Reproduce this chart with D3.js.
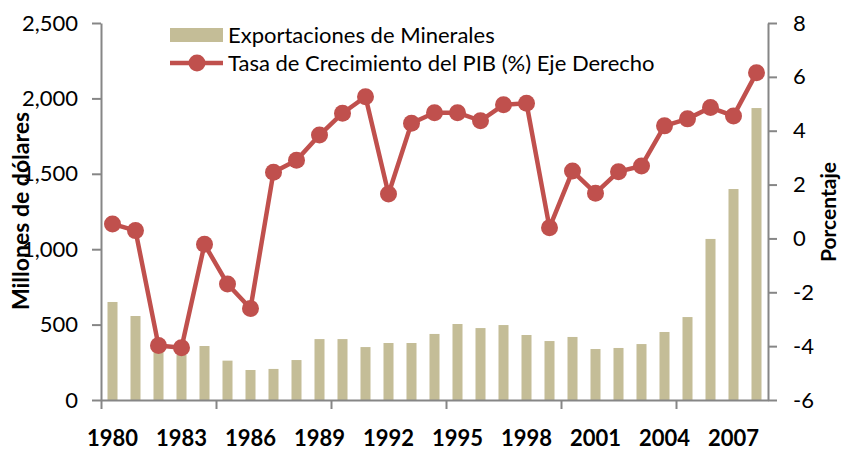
<!DOCTYPE html>
<html>
<head>
<meta charset="utf-8">
<script src="https://cdn.jsdelivr.net/npm/d3@7"></script>
<style>
  body { margin: 0; background: #fff; }
  svg { display: block; font-family: Lato, "Open Sans", sans-serif; }
  .axis path, .axis line { stroke: #868686; stroke-width: 2; }
</style>
</head>
<body>
<div id="chart"></div>
<script>
// data
var years = d3.range(1980, 2009);
var exports = [650, 557, 320, 300, 358, 261, 199, 206, 265, 404, 404, 351, 378, 378, 438,
               504, 477, 497, 431, 391, 418, 338, 345, 371, 451, 550, 1068, 1399, 1936];
var gdpGrowth = [0.54, 0.29, -3.98, -4.06, -0.22, -1.69, -2.6, 2.46, 2.9, 3.84, 4.65, 5.26, 1.65, 4.28, 4.67,
                 4.67, 4.37, 4.96, 5.02, 0.4, 2.5, 1.68, 2.48, 2.69, 4.18, 4.44, 4.86, 4.55, 6.15];
var yearLabels = [1980, 1983, 1986, 1989, 1992, 1995, 1998, 2001, 2004, 2007];
var leftTicks = [0, 500, 1000, 1500, 2000, 2500];
var rightTicks = [-6, -4, -2, 0, 2, 4, 6, 8];

// set the dimensions of the graph
var W = 842, H = 451;
var plotLeft = 101, plotRight = 768, plotTop = 23, plotBottom = 400;

var svg = d3.select("#chart").append("svg")
    .attr("width", W)
    .attr("height", H);

// set the ranges
var x = d3.scaleBand().domain(years).range([plotLeft, plotRight])
    .paddingInner(0.565).paddingOuter(0.2825);
var yL = d3.scaleLinear().domain([0, 2500]).range([plotBottom, plotTop]);
var yR = d3.scaleLinear().domain([-6, 8]).range([plotBottom, plotTop]);
// index scale used only for the tick marks every 5 categories
var xi = d3.scaleLinear().domain([0, years.length]).range([plotLeft, plotRight]);

// bars
svg.append("g").selectAll("rect")
    .data(exports)
  .enter().append("rect")
    .attr("x", function(d, i) { return x(years[i]); })
    .attr("width", x.bandwidth())
    .attr("y", function(d) { return yL(d); })
    .attr("height", function(d) { return yL(0) - yL(d); })
    .attr("fill", "#c4bd97");

// left axis
var gl = svg.append("g").attr("class", "axis")
    .attr("transform", "translate(" + plotLeft + ",0)")
    .call(d3.axisLeft(yL).tickValues(leftTicks).tickFormat(d3.format(",")).tickSize(9).tickSizeOuter(0).tickPadding(14));
// right axis (plain hyphen for negatives, like the original)
var gr = svg.append("g").attr("class", "axis")
    .attr("transform", "translate(" + plotRight + ",0)")
    .call(d3.axisRight(yR).tickValues(rightTicks).tickFormat(function(d) { return String(d); })
      .tickSize(9).tickSizeOuter(0).tickPadding(16));
[gl, gr].forEach(function(g) {
  g.selectAll("text").attr("font-size", 22).attr("fill", "#000").attr("font-family", "Lato");
});

// bottom axis: tick marks every 5 categories
svg.append("g").attr("class", "axis")
    .attr("transform", "translate(0," + plotBottom + ")")
    .call(d3.axisBottom(xi).tickValues([0, 5, 10, 15, 20, 25]).tickFormat("").tickSize(9).tickSizeOuter(0));
// bottom labels every 3 years
var gx = svg.append("g").attr("class", "axis")
    .attr("transform", "translate(0," + plotBottom + ")")
    .call(d3.axisBottom(x).tickValues(yearLabels).tickSize(0).tickPadding(30));
gx.select(".domain").remove();
gx.selectAll("text").attr("font-size", 22).attr("font-weight", "bold").attr("fill", "#000").attr("font-family", "Lato");

// the line
var line = d3.line()
    .x(function(d, i) { return x(years[i]) + x.bandwidth() / 2; })
    .y(function(d) { return yR(d); });

svg.append("path")
    .datum(gdpGrowth)
    .attr("fill", "none")
    .attr("stroke", "#c0504d")
    .attr("stroke-width", 4.5)
    .attr("stroke-linejoin", "round")
    .attr("d", line);

svg.append("g").selectAll("circle")
    .data(gdpGrowth)
  .enter().append("circle")
    .attr("cx", function(d, i) { return x(years[i]) + x.bandwidth() / 2; })
    .attr("cy", function(d) { return yR(d); })
    .attr("r", 8.5)
    .attr("fill", "#c0504d");

// axis titles
svg.append("text")
    .attr("transform", "translate(29,211) rotate(-90)")
    .attr("text-anchor", "middle")
    .attr("font-size", 23).attr("font-weight", "bold")
    .text("Millones de dólares");
svg.append("text")
    .attr("transform", "translate(836,212) rotate(-90)")
    .attr("text-anchor", "middle")
    .attr("font-size", 21).attr("font-weight", "bold")
    .text("Porcentaje");

// legend
var legend = svg.append("g");
legend.append("rect")
    .attr("x", 170).attr("y", 28).attr("width", 53).attr("height", 14)
    .attr("fill", "#c4bd97");
legend.append("text")
    .attr("x", 228).attr("y", 43)
    .attr("font-size", 22)
    .text("Exportaciones de Minerales");
legend.append("line")
    .attr("x1", 170).attr("x2", 223).attr("y1", 63).attr("y2", 63)
    .attr("stroke", "#c0504d").attr("stroke-width", 4.5);
legend.append("circle")
    .attr("cx", 197).attr("cy", 63).attr("r", 8.5)
    .attr("fill", "#c0504d");
legend.append("text")
    .attr("x", 228).attr("y", 71)
    .attr("font-size", 22)
    .text("Tasa de Crecimiento del PIB (%) Eje Derecho");
</script>
</body>
</html>
